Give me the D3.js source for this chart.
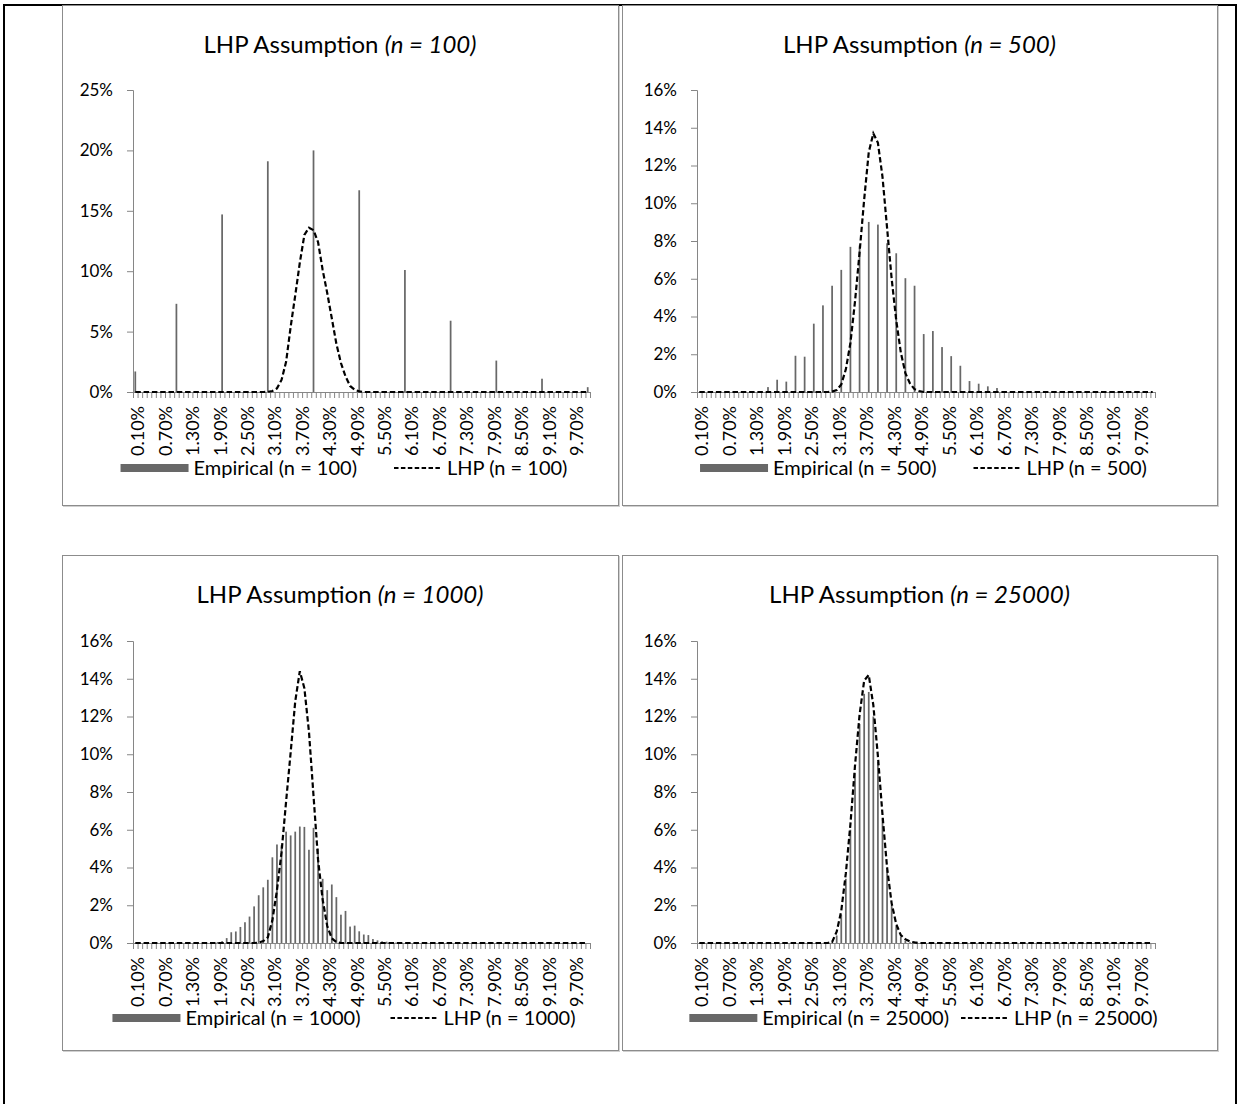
<!DOCTYPE html>
<html>
<head>
<meta charset="utf-8">
<script src="https://cdn.jsdelivr.net/npm/d3@7"></script>
<style>
  body { margin: 0; background: #fff; }
  text { font-family: Lato, "Open Sans", sans-serif; fill: #000; }
</style>
</head>
<body>
<svg id="chart" width="1240" height="1104"></svg>
<script>

// loss-rate buckets 0.10% .. 10.00%
var categories = d3.range(1, 101).map(function(k) { return (k / 10).toFixed(2) + "%"; });
var xTickLabels = ["0.10%", "0.70%", "1.30%", "1.90%", "2.50%", "3.10%", "3.70%", "4.30%", "4.90%",
                   "5.50%", "6.10%", "6.70%", "7.30%", "7.90%", "8.50%", "9.10%", "9.70%"];
var yTicks25 = [0, 5, 10, 15, 20, 25];
var yTicks16 = [0, 2, 4, 6, 8, 10, 12, 14, 16];

// values in %, one per bucket
var emp100 = [
  1.7, 0, 0, 0, 0, 0, 0, 0, 0, 7.3,
  0, 0, 0, 0, 0, 0, 0, 0, 0, 14.7,
  0, 0, 0, 0, 0, 0, 0, 0, 0, 19.1,
  0, 0, 0, 0, 0, 0, 0, 0, 0, 20.0,
  0, 0, 0, 0, 0, 0, 0, 0, 0, 16.7,
  0, 0, 0, 0, 0, 0, 0, 0, 0, 10.1,
  0, 0, 0, 0, 0, 0, 0, 0, 0, 5.9,
  0, 0, 0, 0, 0, 0, 0, 0, 0, 2.6,
  0, 0, 0, 0, 0, 0, 0, 0, 0, 1.1,
  0, 0, 0, 0, 0, 0, 0, 0, 0, 0.4
];
var lhp100 = [
  0, 0, 0, 0, 0, 0, 0, 0, 0, 0,
  0, 0, 0, 0, 0, 0, 0, 0, 0, 0,
  0, 0, 0, 0, 0, 0, 0, 0, 0, 0.02,
  0.08, 0.3, 1.0, 2.5, 5.4, 8.0, 10.7, 13.0, 13.6, 13.4,
  12.4, 10.1, 8.2, 6.1, 4.0, 2.4, 1.3, 0.5, 0.2, 0.05,
  0, 0, 0, 0, 0, 0, 0, 0, 0, 0,
  0, 0, 0, 0, 0, 0, 0, 0, 0, 0,
  0, 0, 0, 0, 0, 0, 0, 0, 0, 0,
  0, 0, 0, 0, 0, 0, 0, 0, 0, 0,
  0, 0, 0, 0, 0, 0, 0, 0, 0, 0
];
var emp500 = [
  0, 0, 0, 0, 0, 0, 0, 0, 0, 0,
  0, 0, 0, 0, 0, 0.26, 0, 0.65, 0, 0.55,
  0, 1.92, 0, 1.87, 0, 3.62, 0, 4.59, 0, 5.63,
  0, 6.47, 0, 7.69, 0, 7.76, 0, 9.01, 0, 8.87,
  0, 7.88, 0, 7.35, 0, 6.03, 0, 5.63, 0, 3.07,
  0, 3.23, 0, 2.38, 0, 1.90, 0, 1.39, 0, 0.58,
  0, 0.44, 0, 0.30, 0, 0.21, 0, 0.05, 0, 0,
  0, 0, 0, 0, 0, 0, 0, 0, 0, 0,
  0, 0, 0, 0, 0, 0, 0, 0, 0, 0,
  0, 0, 0, 0, 0, 0, 0, 0, 0, 0
];
var lhp500 = [
  0, 0, 0, 0, 0, 0, 0, 0, 0, 0,
  0, 0, 0, 0, 0, 0, 0, 0, 0, 0,
  0, 0, 0, 0, 0, 0, 0, 0, 0, 0.02,
  0.1, 0.4, 1.2, 2.6, 4.8, 7.4, 10.2, 12.7, 13.7, 13.2,
  11.4, 8.7, 6.0, 3.8, 2.1, 1.0, 0.45, 0.15, 0.05, 0,
  0, 0, 0, 0, 0, 0, 0, 0, 0, 0,
  0, 0, 0, 0, 0, 0, 0, 0, 0, 0,
  0, 0, 0, 0, 0, 0, 0, 0, 0, 0,
  0, 0, 0, 0, 0, 0, 0, 0, 0, 0,
  0, 0, 0, 0, 0, 0, 0, 0, 0, 0
];
var emp1000 = [
  0, 0, 0, 0, 0, 0, 0, 0, 0, 0,
  0, 0, 0, 0, 0, 0, 0, 0, 0.05, 0.1,
  0.26, 0.57, 0.61, 0.85, 1.1, 1.4, 1.94, 2.53, 2.95, 3.35,
  4.54, 5.22, 5.18, 5.9, 5.7, 5.9, 6.17, 6.15, 4.94, 6.1,
  5.0, 3.4, 2.8, 3.1, 2.43, 1.5, 1.7, 0.87, 0.92, 0.62,
  0.45, 0.42, 0.21, 0.14, 0.09, 0.07, 0.04, 0.02, 0, 0,
  0, 0, 0, 0, 0, 0, 0, 0, 0, 0,
  0, 0, 0, 0, 0, 0, 0, 0, 0, 0,
  0, 0, 0, 0, 0, 0, 0, 0, 0, 0,
  0, 0, 0, 0, 0, 0, 0, 0, 0, 0
];
var lhp1000 = [
  0, 0, 0, 0, 0, 0, 0, 0, 0, 0,
  0, 0, 0, 0, 0, 0, 0, 0, 0, 0,
  0, 0, 0, 0, 0, 0, 0, 0.02, 0.1, 0.3,
  1.2, 2.8, 4.8, 7.5, 10.1, 12.8, 14.4, 13.5, 11.2, 7.8,
  4.4, 2.3, 0.9, 0.25, 0.05, 0, 0, 0, 0, 0,
  0, 0, 0, 0, 0, 0, 0, 0, 0, 0,
  0, 0, 0, 0, 0, 0, 0, 0, 0, 0,
  0, 0, 0, 0, 0, 0, 0, 0, 0, 0,
  0, 0, 0, 0, 0, 0, 0, 0, 0, 0,
  0, 0, 0, 0, 0, 0, 0, 0, 0, 0
];
var emp25000 = [
  0, 0, 0, 0, 0, 0, 0, 0, 0, 0,
  0, 0, 0, 0, 0, 0, 0, 0, 0, 0,
  0, 0, 0, 0, 0, 0, 0, 0, 0, 0.05,
  0.4, 1.5, 3.4, 6.0, 9.0, 11.6, 13.2, 13.3, 12.0, 9.6,
  6.6, 3.9, 2.0, 0.9, 0.35, 0.12, 0.04, 0, 0, 0,
  0, 0, 0, 0, 0, 0, 0, 0, 0, 0,
  0, 0, 0, 0, 0, 0, 0, 0, 0, 0,
  0, 0, 0, 0, 0, 0, 0, 0, 0, 0,
  0, 0, 0, 0, 0, 0, 0, 0, 0, 0,
  0, 0, 0, 0, 0, 0, 0, 0, 0, 0
];
var lhp25000 = [
  0, 0, 0, 0, 0, 0, 0, 0, 0, 0,
  0, 0, 0, 0, 0, 0, 0, 0, 0, 0,
  0, 0, 0, 0, 0, 0, 0, 0, 0, 0.05,
  0.6, 1.7, 3.7, 6.3, 9.4, 12.1, 13.9, 14.2, 12.6, 9.9,
  6.8, 4.0, 2.1, 1.0, 0.42, 0.2, 0.08, 0.03, 0, 0,
  0, 0, 0, 0, 0, 0, 0, 0, 0, 0,
  0, 0, 0, 0, 0, 0, 0, 0, 0, 0,
  0, 0, 0, 0, 0, 0, 0, 0, 0, 0,
  0, 0, 0, 0, 0, 0, 0, 0, 0, 0,
  0, 0, 0, 0, 0, 0, 0, 0, 0, 0
];

var svg = d3.select("#chart");
var axisColor = "#868686";
var barColor = "#686868";
var fontStack = "Lato, 'Open Sans', sans-serif";

// outer black frame
svg.append("rect")
    .attr("x", 4).attr("y", 5).attr("width", 1232).attr("height", 1110)
    .attr("fill", "none").attr("stroke", "#000").attr("stroke-width", 2);

var panels = [
  {n: "100", emp: emp100, lhp: lhp100, ticks: yTicks25, box: [62, 5, 556, 500], plot: [133, 590, 90, 392], legendY: 468, gap: 37},
  {n: "500", emp: emp500, lhp: lhp500, ticks: yTicks16, box: [622, 5, 595, 500], plot: [697, 1155, 90, 392], legendY: 468, gap: 37},
  {n: "1000", emp: emp1000, lhp: lhp1000, ticks: yTicks16, box: [62, 555, 556, 495], plot: [133, 590, 641, 943], legendY: 1018, gap: 30},
  {n: "25000", emp: emp25000, lhp: lhp25000, ticks: yTicks16, box: [622, 555, 595, 495], plot: [697, 1155, 641, 943], legendY: 1018, gap: 12}
];

panels.forEach(drawPanel);

function drawPanel(p) {
  var bx = p.box[0], by = p.box[1], bw = p.box[2], bh = p.box[3];
  var left = p.plot[0], right = p.plot[1], top = p.plot[2], bottom = p.plot[3];

  // chart-area border with a light shadow
  svg.append("rect")
      .attr("x", bx + 1.5).attr("y", by + 1.5).attr("width", bw).attr("height", bh)
      .attr("fill", "none").attr("stroke", "#d0d0d0").attr("stroke-width", 1);
  svg.append("rect")
      .attr("x", bx + 0.5).attr("y", by + 0.5).attr("width", bw).attr("height", bh)
      .attr("fill", "#fff").attr("stroke", "#8c8c8c").attr("stroke-width", 1);

  var x = d3.scaleBand()
      .domain(categories)
      .range([left, right])
      .paddingInner(0.62)
      .paddingOuter(0.31);
  var xIdx = d3.scaleLinear().domain([0, 100]).range([left, right]);
  var y = d3.scaleLinear()
      .domain([0, d3.max(p.ticks)])
      .range([bottom, top]);

  var g = svg.append("g");

  // title
  var title = g.append("text")
      .attr("x", bx + bw / 2)
      .attr("y", by + 48)
      .attr("text-anchor", "middle")
      .style("font-size", "24px");
  title.append("tspan").text("LHP Assumption ");
  title.append("tspan").style("font-style", "italic").text("(n = " + p.n + ")");

  // bars
  g.selectAll(".bar")
      .data(p.emp)
    .enter().append("rect")
      .attr("class", "bar")
      .attr("x", function(d, i) { return x(categories[i]); })
      .attr("width", x.bandwidth())
      .attr("y", function(d) { return y(d); })
      .attr("height", function(d) { return bottom - y(d); })
      .attr("fill", barColor);

  // y axis
  var yAxis = g.append("g")
      .attr("transform", "translate(" + left + ",0)")
      .call(d3.axisLeft(y).tickValues(p.ticks).tickSize(6).tickPadding(14)
        .tickFormat(function(d) { return d + "%"; }));
  yAxis.selectAll("line, path").attr("stroke", axisColor);
  yAxis.selectAll("text").style("font-size", "17px").attr("fill", "#000")
      .style("font-family", fontStack);

  // x axis: a tick at every bucket boundary
  var xTicks = g.append("g")
      .attr("transform", "translate(0," + bottom + ")")
      .call(d3.axisBottom(xIdx).tickValues(d3.range(0, 101)).tickSize(6).tickFormat(""));
  xTicks.selectAll("line, path").attr("stroke", axisColor);

  var xLabels = g.append("g")
      .attr("transform", "translate(0," + bottom + ")")
      .call(d3.axisBottom(x).tickValues(xTickLabels).tickSize(0));
  xLabels.select(".domain").remove();
  xLabels.selectAll("text")
      .style("font-size", "18px")
      .style("font-family", fontStack)
      .attr("fill", "#000")
      .attr("text-anchor", "end")
      .attr("dx", 0)
      .attr("dy", 0)
      .attr("transform", "translate(0,14) rotate(-90) translate(0,6)");

  // LHP dashed line
  var line = d3.line()
      .x(function(d, i) { return x(categories[i]) + x.bandwidth() / 2; })
      .y(function(d) { return y(d); });
  g.append("path")
      .datum(p.lhp)
      .attr("d", line)
      .attr("fill", "none")
      .attr("stroke", "#000")
      .attr("stroke-width", 2.2)
      .attr("stroke-dasharray", "5.5,2.8");

  // legend
  var leg = g.append("g");
  leg.append("rect")
      .attr("x", 0).attr("y", -4).attr("width", 68).attr("height", 8)
      .attr("fill", barColor);
  var t1 = leg.append("text")
      .attr("x", 73).attr("y", 7)
      .style("font-size", "20px")
      .text("Empirical (n = " + p.n + ")");
  var w1 = t1.node().getComputedTextLength();
  var lx = 73 + w1 + p.gap;
  leg.append("line")
      .attr("x1", lx).attr("x2", lx + 48).attr("y1", 0).attr("y2", 0)
      .attr("stroke", "#000").attr("stroke-width", 2.2)
      .attr("stroke-dasharray", "4.5,2.4");
  var t2 = leg.append("text")
      .attr("x", lx + 53).attr("y", 7)
      .style("font-size", "20px")
      .text("LHP (n = " + p.n + ")");
  var total = lx + 53 + t2.node().getComputedTextLength();
  leg.attr("transform", "translate(" + (bx + bw / 2 + 4 - total / 2) + "," + p.legendY + ")");
}
</script>
</body>
</html>
